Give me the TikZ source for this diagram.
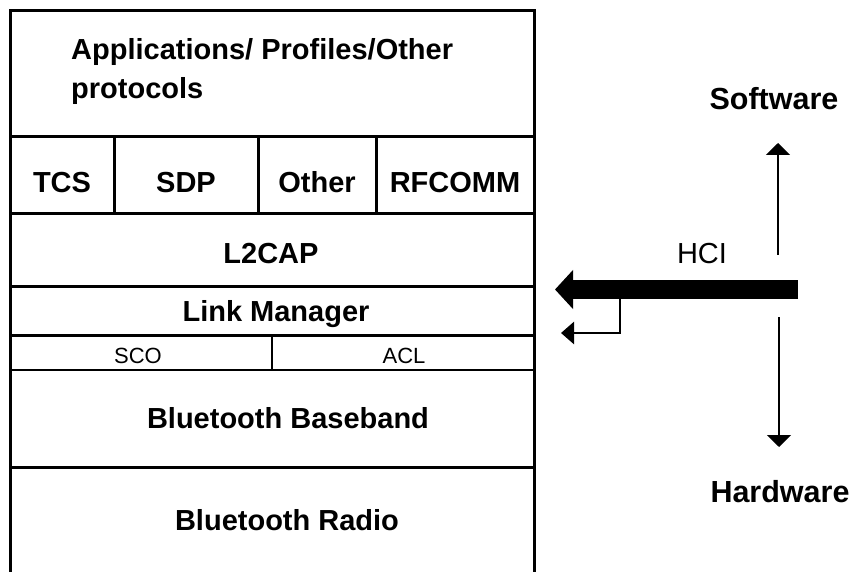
\documentclass[tikz,border=0pt]{standalone}
\usepackage{fontspec}
\setmainfont{Liberation Sans}
\usetikzlibrary{arrows.meta}
\begin{document}
\begin{tikzpicture}[x=1pt,y=-1pt,
  heavy/.style={line width=3pt},
  light/.style={line width=1.4pt},
  boldlbl/.style={font=\fontsize{29}{34}\selectfont\bfseries, anchor=base, inner sep=0pt},
  smalllbl/.style={font=\fontsize{22}{26}\selectfont, anchor=base, inner sep=0pt},
  sidelbl/.style={font=\fontsize{30.5}{36}\selectfont\bfseries, anchor=base, inner sep=0pt},
  hcilbl/.style={font=\fontsize{29}{34}\selectfont, anchor=base, inner sep=0pt},
  thinarrow/.style={line width=1.6pt, -{Triangle[length=12pt,width=24pt]}},
  bigarrow/.style={line width=19pt, -{Triangle[length=18pt,width=38pt]}},
  smallarrow/.style={line width=2.8pt, -{Triangle[length=13pt,width=22pt]}}
]
\useasboundingbox (0,0) rectangle (857,572);
\fill[white] (0,0) rectangle (857,572);

% outer frame of the stack
\draw[heavy] (10,572) -- (10,11) -- (534,11) -- (534,572);
% horizontal layer boundaries
\draw[heavy] (10,137) -- (534,137);
\draw[heavy] (10,214) -- (534,214);
\draw[heavy] (10,286) -- (534,286);
\draw[heavy] (10,335) -- (534,335);
\draw[light] (10,370) -- (534,370);
\draw[heavy] (10,467) -- (534,467);
% vertical dividers
\draw[heavy] (114,137) -- (114,214);
\draw[heavy] (258,137) -- (258,214);
\draw[heavy] (376,137) -- (376,214);
\draw[light] (272,335) -- (272,370);

% labels
\node[boldlbl, anchor=base west] (apps1) at (71,60) {Applications/ Profiles/Other};
\node[boldlbl, anchor=base west] (apps2) at (71,99) {protocols};
\node[boldlbl] (tcs) at (62,193) {TCS};
\node[boldlbl] (sdp) at (186,193) {SDP};
\node[boldlbl] (other) at (317,193) {Other};
\node[boldlbl] (rfcomm) at (455,193) {RFCOMM};
\node[boldlbl] (l2cap) at (271,263) {L2CAP};
\node[boldlbl] (lm) at (276,321) {Link Manager};
\node[smalllbl] (sco) at (138,363) {SCO};
\node[smalllbl] (acl) at (404,363) {ACL};
\node[boldlbl] (bb) at (288,428) {Bluetooth Baseband};
\node[boldlbl] (radio) at (287,530) {Bluetooth Radio};

\node[sidelbl] (sw) at (774,110) {Software};
\node[sidelbl] (hw) at (780,502) {Hardware};
\node[hcilbl] (hci) at (702,263) {HCI};

% arrows
\coordinate (upstart) at (778,255);
\coordinate (uptip) at (778,143);
\coordinate (dnstart) at (779,317);
\coordinate (dntip) at (779,447);
\coordinate (hcistart) at (798,289.5);
\coordinate (hcitip) at (555,289.5);
\coordinate (brtop) at (620,298);
\coordinate (brtip) at (561,333);

\draw[thinarrow] (upstart) -- (uptip);
\draw[thinarrow] (dnstart) -- (dntip);
\draw[bigarrow] (hcistart) -- (hcitip);
\draw[smallarrow] (brtop) |- (brtip);
\end{tikzpicture}
\end{document}
